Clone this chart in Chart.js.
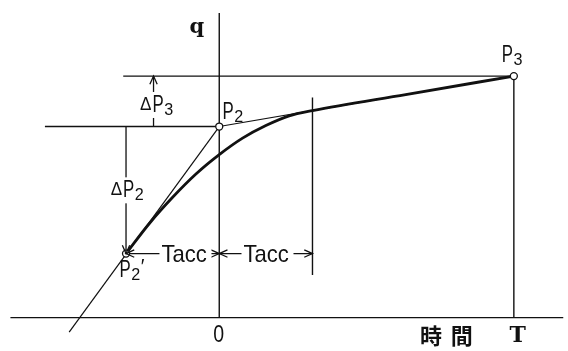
<!DOCTYPE html>
<html lang="ja">
<head>
<meta charset="UTF-8">
<title>q - T</title>
<script src="https://cdn.jsdelivr.net/npm/chart.js"></script>
<style>
  body { margin: 0; background: #fff; }
  canvas { display: block; }
</style>
</head>
<body>
<canvas id="chart" width="568" height="351"></canvas>
<script>
  // time in Tacc units, q in arbitrary units
  const curveT = [-1, -0.75, -0.5, -0.25, 0, 0.25, 0.5, 0.75, 1, 2, 3.16];
  const curveQ = [0.66, 0.97, 1.24, 1.48, 1.68, 1.85, 1.98, 2.08, 2.135, 2.30, 2.49];

  const pointNames = ['P2', 'P3', "P2'"];
  const pointT = [0, 3.16, -1];
  const pointQ = [1.97, 2.49, 0.66];

  const tangentT = [-1.61, 0];
  const tangentQ = [-0.15, 1.97];
  const chordT = [0, 3.16];
  const chordQ = [1.97, 2.49];

  // [t0, q0, t1, q1]
  const guides = [
    [-2.24, 0, 3.69, 0],
    [0, 0, 0, 3.14],
    [-1.03, 2.49, 3.16, 2.49],
    [-1.87, 1.97, 0, 1.97],
    [3.16, 2.49, 3.16, 0],
    [1, 2.27, 1, 0.44]
  ];
  // arrowhead at the second end
  const arrows = [
    [-0.705, 1.97, -0.705, 2.49],
    [-1, 1.97, -1, 0.66],
    [-0.5, 0.66, -1, 0.66],
    [-0.5, 0.66, 0, 0.66],
    [0.5, 0.66, 0, 0.66],
    [0.5, 0.66, 1, 0.66]
  ];

  const ink = '#111';
  const xy = (ts, qs) => ts.map((t, i) => ({ x: t, y: qs[i] }));
  const seg = s => [{ x: s[0], y: s[1] }, { x: s[2], y: s[3] }];

  const datasets = [
    {
      label: 'points',
      data: xy(pointT, pointQ),
      showLine: false,
      pointRadius: 3.5,
      pointBackgroundColor: '#fff',
      pointBorderColor: ink,
      pointBorderWidth: 1.3
    },
    {
      label: 'q',
      data: xy(curveT, curveQ),
      borderColor: ink,
      borderWidth: 2.8,
      cubicInterpolationMode: 'monotone',
      pointRadius: 0
    },
    { label: 'tangent', data: xy(tangentT, tangentQ), borderColor: ink, borderWidth: 1.2, pointRadius: 0 },
    { label: 'chord', data: xy(chordT, chordQ), borderColor: ink, borderWidth: 1.2, pointRadius: 0 }
  ];
  guides.forEach(g => datasets.push({ data: seg(g), borderColor: ink, borderWidth: 1.4, pointRadius: 0 }));
  arrows.forEach(a => datasets.push({ data: seg(a), borderColor: ink, borderWidth: 1.3, pointRadius: 0 }));

  const notes = {
    id: 'notes',
    afterDatasetsDraw(chart) {
      const { ctx, scales: { x, y } } = chart;
      const px = t => x.getPixelForValue(t), py = q => y.getPixelForValue(q);
      ctx.save();
      ctx.strokeStyle = ink;
      ctx.fillStyle = ink;
      ctx.lineWidth = 1.3;

      arrows.forEach(([t0, q0, t1, q1]) => {
        const x0 = px(t0), y0 = py(q0), x1 = px(t1), y1 = py(q1);
        const a = Math.atan2(y1 - y0, x1 - x0), L = 9, w = 0.42;
        ctx.beginPath();
        ctx.moveTo(x1 - L * Math.cos(a - w), y1 - L * Math.sin(a - w));
        ctx.lineTo(x1, y1);
        ctx.lineTo(x1 - L * Math.cos(a + w), y1 - L * Math.sin(a + w));
        ctx.stroke();
      });

      const sans = '"Liberation Sans", Arial, sans-serif';
      // text drawn narrow, like the hand lettering
      const put = (s, X, Y, size, sx) => {
        ctx.font = size + 'px ' + sans;
        const w = ctx.measureText(s).width * sx;
        ctx.save();
        ctx.translate(X, Y);
        ctx.scale(sx, 1);
        ctx.fillText(s, 0, 0);
        ctx.restore();
        return w;
      };
      const box = (X, Y, w, h) => {
        ctx.fillStyle = '#fff';
        ctx.fillRect(X, Y, w, h);
        ctx.fillStyle = ink;
      };
      ctx.textAlign = 'left';
      ctx.textBaseline = 'alphabetic';
      const tag = (delta, sub, prime, t, q, bg) => {
        let X = px(t), Y = py(q);
        if (bg) box(X - 3, Y - 20, 44, 26);
        if (delta) X += put('\u0394', X, Y - 2, 18, 0.95) + 1;
        X += put('P', X, Y, 24, 0.7);
        X += put(sub, X + 0.5, Y + 3, 17, 0.95) + 1;
        if (prime) put('\u2032', X, Y - 4, 20, 1);
      };

      tag(false, '2', false, 0.035, 2.05);
      tag(false, '3', false, 3.03, 2.64);
      tag(false, '2', true, -1.07, 0.42);
      tag(true, '3', false, -0.85, 2.12, true);
      tag(true, '2', false, -1.165, 1.24, true);

      const tacc = (t) => {
        const X = px(t), Y = py(0.66) + 8.5;
        box(X - 2, Y - 19, 52, 22);
        put('Tacc', X, Y, 24, 0.92);
      };
      tacc(-0.62);
      tacc(0.26);
      put('0', px(0) - 6, py(-0.25), 23, 0.85);

      ctx.textAlign = 'center';
      ctx.textBaseline = 'middle';
      ctx.font = 'bold 21px "DejaVu Serif", serif';
      ctx.fillText('q', px(-0.24), py(2.99));
      ctx.font = 'bold 22px "Noto Sans CJK JP", sans-serif';
      ctx.fillText('\u6642', px(2.27), py(-0.19));
      ctx.fillText('\u9593', px(2.6), py(-0.19));
      ctx.font = 'bold 22px "DejaVu Serif", serif';
      ctx.fillText('T', px(3.2), py(-0.19));
      ctx.restore();
    }
  };

  new Chart(document.getElementById('chart'), {
    type: 'scatter',
    data: { datasets },
    options: {
      responsive: false,
      animation: false,
      showLine: true,
      layout: { padding: 0 },
      datasets: { scatter: { clip: false } },
      scales: {
        x: { type: 'linear', min: -2.295, max: 3.684, display: false },
        y: { type: 'linear', min: -0.29, max: 3.22, display: false }
      },
      plugins: { legend: { display: false }, tooltip: { enabled: false } }
    },
    plugins: [notes]
  });
</script>
</body>
</html>
